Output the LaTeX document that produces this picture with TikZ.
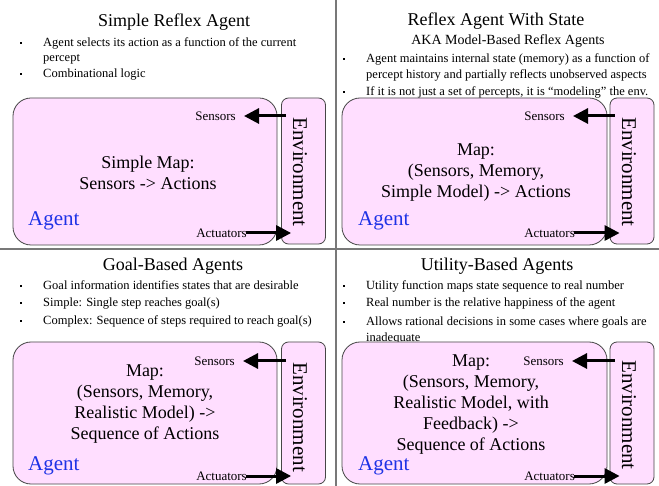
\documentclass[tikz,border=0pt]{standalone}
\usepackage{fontspec}
\setmainfont{Liberation Serif}
\usetikzlibrary{arrows.meta}
\definecolor{agentpink}{RGB}{255,222,255}
\definecolor{boxline}{RGB}{70,70,70}
\definecolor{agentblue}{RGB}{30,50,230}
\definecolor{divider}{RGB}{120,120,120}
\tikzset{
  divide/.style={draw=divider, line width=1.4pt},
  heading/.style={anchor=base, inner sep=0pt, font=\fontsize{18}{21}\selectfont},
  subheading/.style={anchor=base, inner sep=0pt, font=\fontsize{14}{17}\selectfont},
  bullettext/.style={anchor=base west, inner sep=0pt, font=\fontsize{12.5}{15}\selectfont},
  agentbox/.style={draw=boxline, fill=agentpink, rounded corners=18pt, line width=0.8pt, inner sep=0pt},
  envbox/.style={draw=boxline, fill=agentpink, rounded corners=7pt, line width=0.8pt, inner sep=0pt},
  envlabel/.style={rotate=-90, inner sep=0pt, font=\fontsize{21}{24}\selectfont},
  maplabel/.style={align=center, inner sep=0pt, font=\fontsize{18}{21}\selectfont},
  agentlabel/.style={anchor=base west, inner sep=0pt, text=agentblue, font=\fontsize{21}{24}\selectfont},
  portlabel/.style={anchor=east, inner sep=0pt, font=\fontsize{13}{15}\selectfont},
  sig/.style={draw=black, line width=3pt, -{Triangle[length=15pt,width=15pt]}}
}
\begin{document}
\begin{tikzpicture}[x=1pt,y=-1pt]
    \useasboundingbox (0,0) rectangle (659,486);
    \fill[white] (0,0) rectangle (659,486);
    \draw[divide] (336,0) -- (336,486);
    \draw[divide] (0,249) -- (659,249);

    % Simple Reflex Agent
    \node[heading] (head1) at (174,27) {Simple Reflex Agent};
    \fill (19.5,42) rectangle +(2.2,2.2);
    \fill (19.5,73) rectangle +(2.2,2.2);
    \node[bullettext] (b1a) at (43,47) {Agent selects its action as a function of the current};
    \node[bullettext] (b1b) at (43,62) {percept};
    \node[bullettext] (b1c) at (43,78) {Combinational logic};
    \node[agentbox, minimum width=264pt, minimum height=147pt] (agent1) at (145,171.5) {};
    \node[envbox, minimum width=44pt, minimum height=146pt] (env1) at (303.5,171) {};
    \node[envlabel] (envtext1) at (300,172) {Environment};
    \node[maplabel] (map1) at (148,173) {Simple Map:\\Sensors -> Actions};
    \node[agentlabel] (name1) at (28,226) {Agent};
    \node[portlabel] (sens1) at (236,116) {Sensors};
    \node[portlabel] (act1) at (247,233) {Actuators};
    \draw[sig, shorten <=-5pt, shorten >=8pt] (sens1.east -| env1.west) -- (sens1.east);
    \draw[sig, shorten <=-1pt, shorten >=-10pt] (act1.east) -- (act1.east -| env1.west);

    % Reflex Agent With State
    \node[heading] (head2) at (496,26) {Reflex Agent With State};
    \node[subheading] (sub2) at (508,45) {AKA Model-Based Reflex Agents};
    \fill (342.5,58) rectangle +(2.2,2.2);
    \fill (342.5,91) rectangle +(2.2,2.2);
    \node[bullettext] (b2a) at (366,63) {Agent maintains internal state (memory) as a function of};
    \node[bullettext] (b2b) at (366,79) {percept history and partially reflects unobserved aspects};
    \node[bullettext] (b2c) at (366,96) {If it is not just a set of percepts, it is “modeling” the env.};
    \node[agentbox, minimum width=265pt, minimum height=147pt] (agent2) at (474.5,171.5) {};
    \node[envbox, minimum width=44pt, minimum height=146pt] (env2) at (632,171) {};
    \node[envlabel] (envtext2) at (629,172) {Environment};
    \node[maplabel] (map2) at (476,173) {Map:\\(Sensors, Memory,\\Simple Model) -> Actions};
    \node[agentlabel] (name2) at (358,226) {Agent};
    \node[portlabel] (sens2) at (565,116) {Sensors};
    \node[portlabel] (act2) at (575,233) {Actuators};
    \draw[sig, shorten <=-5pt, shorten >=8pt] (sens2.east -| env2.west) -- (sens2.east);
    \draw[sig, shorten <=-1pt, shorten >=-10pt] (act2.east) -- (act2.east -| env2.west);

    % Goal-Based Agents
    \node[heading] (head3) at (173,271) {Goal-Based Agents};
    \fill (19.5,285) rectangle +(2.2,2.2);
    \fill (19.5,302) rectangle +(2.2,2.2);
    \fill (19.5,320) rectangle +(2.2,2.2);
    \node[bullettext] (b3a) at (43,290) {Goal information identifies states that are desirable};
    \node[bullettext] (b3b) at (43,307) {Simple: Single step reaches goal(s)};
    \node[bullettext] (b3c) at (43,325) {Complex: Sequence of steps required to reach goal(s)};
    \node[agentbox, minimum width=264pt, minimum height=142pt] (agent3) at (145,413) {};
    \node[envbox, minimum width=44pt, minimum height=142pt] (env3) at (303.5,413) {};
    \node[envlabel] (envtext3) at (300,417) {Environment};
    \node[maplabel] (map3) at (145,404) {Map:\\(Sensors, Memory,\\Realistic Model) ->\\Sequence of Actions};
    \node[agentlabel] (name3) at (28,470) {Agent};
    \node[portlabel] (sens3) at (235,361) {Sensors};
    \node[portlabel] (act3) at (247,476) {Actuators};
    \draw[sig, shorten <=-5pt, shorten >=8pt] (sens3.east -| env3.west) -- (sens3.east);
    \draw[sig, shorten <=-1pt, shorten >=-10pt] (act3.east) -- (act3.east -| env3.west);

    % Utility-Based Agents
    \node[heading] (head4) at (497,271) {Utility-Based Agents};
    \fill (342.5,285) rectangle +(2.2,2.2);
    \fill (342.5,302) rectangle +(2.2,2.2);
    \fill (342.5,321) rectangle +(2.2,2.2);
    \node[bullettext] (b4a) at (366,290) {Utility function maps state sequence to real number};
    \node[bullettext] (b4b) at (366,307) {Real number is the relative happiness of the agent};
    \node[bullettext] (b4c) at (366,326) {Allows rational decisions in some cases where goals are};
    \node[bullettext] (b4d) at (366,342) {inadequate};
    \node[agentbox, minimum width=265pt, minimum height=142pt] (agent4) at (474.5,413) {};
    \node[envbox, minimum width=44pt, minimum height=142pt] (env4) at (632,413) {};
    \node[envlabel] (envtext4) at (629,415) {Environment};
    \node[maplabel] (map4) at (471,405) {Map:\\(Sensors, Memory,\\Realistic Model, with\\Feedback) ->\\Sequence of Actions};
    \node[agentlabel] (name4) at (358,470) {Agent};
    \node[portlabel] (sens4) at (564,361) {Sensors};
    \node[portlabel] (act4) at (575,476) {Actuators};
    \draw[sig, shorten <=-5pt, shorten >=8pt] (sens4.east -| env4.west) -- (sens4.east);
    \draw[sig, shorten <=-1pt, shorten >=-10pt] (act4.east) -- (act4.east -| env4.west);
\end{tikzpicture}
\end{document}
